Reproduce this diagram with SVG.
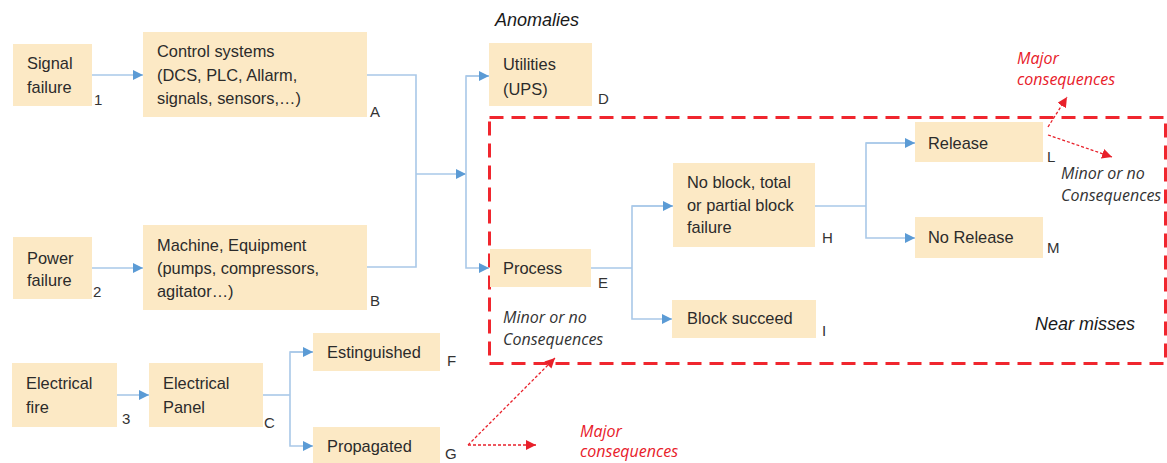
<svg xmlns="http://www.w3.org/2000/svg" width="1167" height="463" viewBox="0 0 1167 463">
<style>
.box{fill:#FCE9C5}
.t{font-family:"Liberation Sans",Arial,sans-serif;font-size:16.4px;fill:#2b2b2b}
.lb{font-family:"Liberation Sans",Arial,sans-serif;font-size:15px;fill:#333}
.it{font-family:"Liberation Sans",Arial,sans-serif;font-style:italic;font-size:18px;fill:#1a1a1a}
.note{font-family:"Open Sans",sans-serif;font-style:italic;font-size:16px;fill:#333}
.red{font-family:"Open Sans",sans-serif;font-style:italic;font-size:16px;fill:#E8202A}
.c{fill:none;stroke:#A9C8E8;stroke-width:1.6}
.r{fill:none;stroke:#E8202A;stroke-width:1.3;stroke-dasharray:3 2}
</style>
<defs>
<marker id="ab" viewBox="0 0 10 10" refX="10" refY="5" markerWidth="10" markerHeight="10" markerUnits="userSpaceOnUse" orient="auto"><path d="M0,0 L10,5 L0,10 Z" fill="#5B9BD5"/></marker>
<marker id="ar" viewBox="0 0 10 10" refX="10" refY="5" markerWidth="10" markerHeight="10" markerUnits="userSpaceOnUse" orient="auto"><path d="M0,0 L10,5 L0,10 Z" fill="#E8202A"/></marker>
</defs>

<text class="it" x="495" y="26">Anomalies</text>
<text class="it" x="1035" y="330">Near misses</text>
<rect x="489.5" y="117.5" width="676" height="246" fill="none" stroke="#F0262E" stroke-width="3" stroke-dasharray="14 8"/>

<g id="connectors">
<path class="c" d="M92,75 H143" marker-end="url(#ab)"/>
<path class="c" d="M92,268 H143" marker-end="url(#ab)"/>
<path class="c" d="M117,395 H149" marker-end="url(#ab)"/>
<path class="c" d="M366,75 H416 V267 H366"/>
<path class="c" d="M416,174 H466" marker-end="url(#ab)"/>
<path class="c" d="M489,76 H466 V268 H489" marker-end="url(#ab)"/>
<path class="c" d="M466,76 H489" marker-end="url(#ab)"/>
<path class="c" d="M263,395 H290"/>
<path class="c" d="M313,352 H290 V446 H313" marker-end="url(#ab)"/>
<path class="c" d="M290,352 H313" marker-end="url(#ab)"/>
<path class="c" d="M591,268 H632"/>
<path class="c" d="M673,206 H632 V319 H672" marker-end="url(#ab)"/>
<path class="c" d="M632,206 H673" marker-end="url(#ab)"/>
<path class="c" d="M815,206 H866"/>
<path class="c" d="M915,143 H866 V238 H915" marker-end="url(#ab)"/>
<path class="c" d="M866,143 H915" marker-end="url(#ab)"/>
<path class="r" d="M1048,127 L1067,97" marker-end="url(#ar)"/>
<path class="r" d="M1048,135 L1112,157" marker-end="url(#ar)"/>
<path class="r" d="M468,445 L555,358" marker-end="url(#ar)"/>
<path class="r" d="M468,445 H536" marker-end="url(#ar)"/>
</g>

<g id="n1"><rect class="box" x="13" y="44" width="79" height="62"/><text class="t" x="27" y="69">Signal</text><text class="t" x="27" y="93">failure</text><text class="lb" x="94" y="105">1</text></g>
<g id="nA"><rect class="box" x="143" y="32" width="224" height="85"/><text class="t" x="157" y="57">Control systems</text><text class="t" x="157" y="81">(DCS, PLC, Allarm,</text><text class="t" x="157" y="104">signals, sensors,…)</text><text class="lb" x="370" y="117">A</text></g>
<g id="nD"><rect class="box" x="489" y="43" width="103" height="63"/><text class="t" x="503" y="70">Utilities</text><text class="t" x="503" y="95">(UPS)</text><text class="lb" x="598" y="104">D</text></g>
<g id="n2"><rect class="box" x="13" y="237" width="79" height="62"/><text class="t" x="27" y="264">Power</text><text class="t" x="27" y="286">failure</text><text class="lb" x="93" y="297">2</text></g>
<g id="nB"><rect class="box" x="143" y="225" width="224" height="85"/><text class="t" x="157" y="251">Machine, Equipment</text><text class="t" x="157" y="274">(pumps, compressors,</text><text class="t" x="157" y="297">agitator…)</text><text class="lb" x="370" y="306">B</text></g>
<g id="n3"><rect class="box" x="12" y="363" width="105" height="64"/><text class="t" x="26" y="389">Electrical</text><text class="t" x="26" y="413">fire</text><text class="lb" x="122" y="424">3</text></g>
<g id="nC"><rect class="box" x="149" y="363" width="114" height="64"/><text class="t" x="163" y="389">Electrical</text><text class="t" x="163" y="413">Panel</text><text class="lb" x="264" y="428">C</text></g>
<g id="nF"><rect class="box" x="313" y="333" width="127" height="38"/><text class="t" x="327" y="358">Estinguished</text><text class="lb" x="447" y="366">F</text></g>
<g id="nG"><rect class="box" x="313" y="427" width="127" height="40"/><text class="t" x="327" y="452">Propagated</text><text class="lb" x="445" y="459">G</text></g>
<g id="nE"><rect class="box" x="490" y="249" width="101" height="38"/><text class="t" x="503" y="274">Process</text><text class="lb" x="598" y="288">E</text></g>
<g id="nH"><rect class="box" x="673" y="163" width="142" height="84"/><text class="t" x="687" y="188">No block, total</text><text class="t" x="687" y="211">or partial block</text><text class="t" x="687" y="233">failure</text><text class="lb" x="822" y="243">H</text></g>
<g id="nI"><rect class="box" x="672" y="300" width="144" height="38"/><text class="t" x="687" y="324">Block succeed</text><text class="lb" x="822" y="336">I</text></g>
<g id="nL"><rect class="box" x="915" y="122" width="128" height="40"/><text class="t" x="928" y="149">Release</text><text class="lb" x="1047" y="162">L</text></g>
<g id="nM"><rect class="box" x="915" y="217" width="128" height="41"/><text class="t" x="928" y="243">No Release</text><text class="lb" x="1047" y="253">M</text></g>

<text class="note" x="503" y="323">Minor or no</text>
<text class="note" x="503" y="345">Consequences</text>
<text class="note" x="1061" y="179">Minor or no</text>
<text class="note" x="1061" y="201">Consequences</text>
<text class="red" x="1017" y="64">Major</text>
<text class="red" x="1017" y="85">consequences</text>
<text class="red" x="580" y="437">Major</text>
<text class="red" x="580" y="457">consequences</text>
</svg>
